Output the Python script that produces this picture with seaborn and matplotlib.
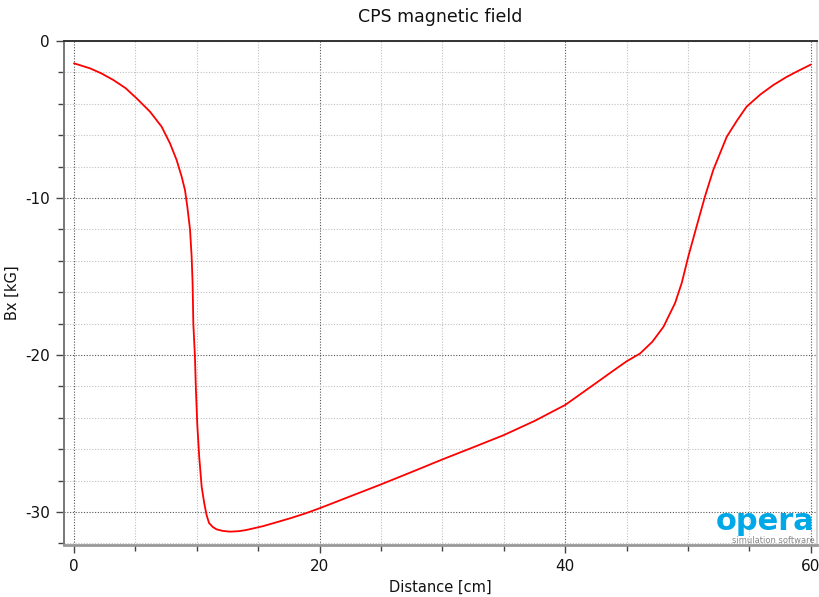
import numpy as np
import pandas as pd
import matplotlib
matplotlib.use("Agg")
import matplotlib.pyplot as plt
from matplotlib.ticker import MultipleLocator
import seaborn as sns

distance_cm = [0.0, 1.3, 2.2, 3.2, 4.2, 5.1, 6.19, 7.14, 7.82, 8.36, 8.77, 9.04, 9.23,
               9.45, 9.58, 9.66, 9.72, 9.85, 9.93, 10.04, 10.2, 10.4, 10.6, 10.8, 11.0,
               11.3, 11.6, 12.1, 12.7, 13.4, 14.0, 15.4, 16.5, 17.6, 18.8, 20.0, 22.5,
               25.0, 27.5, 30.0, 32.5, 35.0, 37.5, 40.0, 42.3, 44.0, 45.0, 46.1, 47.1,
               48.0, 48.94, 49.49, 50.03, 50.7, 51.38, 52.06, 53.15, 54.0, 54.77, 55.9,
               56.95, 58.0, 58.85, 60.0]
bx_kG = [-1.42, -1.74, -2.05, -2.48, -3.0, -3.65, -4.5, -5.46, -6.52, -7.58, -8.64,
         -9.49, -10.55, -12.0, -13.7, -15.4, -18.0, -20.1, -22.2, -24.4, -26.5, -28.4,
         -29.4, -30.2, -30.7, -30.95, -31.1, -31.2, -31.25, -31.22, -31.15, -30.9,
         -30.65, -30.4, -30.1, -29.76, -29.0, -28.24, -27.45, -26.65, -25.88, -25.1,
         -24.2, -23.18, -21.9, -20.95, -20.4, -19.9, -19.15, -18.2, -16.7, -15.4,
         -13.7, -11.8, -9.9, -8.2, -6.1, -5.05, -4.18, -3.4, -2.8, -2.3, -1.95, -1.5]

title = "CPS magnetic field"
xlabel = "Distance [cm]"
ylabel = "Bx [kG]"

df = pd.DataFrame({"Distance": distance_cm, "Bx": bx_kG})

sns.set_style("white")
plt.rcParams['font.family'] = ['DejaVu Sans']
plt.rcParams['axes.unicode_minus'] = False

fig = plt.figure(figsize=(8.19, 5.97), dpi=100)
ax = fig.add_axes([64/819, 1-545/597, (817-64)/819, (545-41)/597])

sns.lineplot(data=df, x="Distance", y="Bx", ax=ax, color="#ff0000", linewidth=1.3,
             sort=False, estimator=None)

ax.set_xlim(-0.81, 60.5)
ax.set_ylim(-32.1, 0)

ax.xaxis.set_major_locator(MultipleLocator(20))
ax.xaxis.set_minor_locator(MultipleLocator(5))
ax.yaxis.set_major_locator(MultipleLocator(10))
ax.yaxis.set_minor_locator(MultipleLocator(2))

ax.grid(which="major", color="#555555", linestyle=(0, (1, 1.5)), linewidth=0.8)
ax.grid(which="minor", color="#c0c0c0", linestyle=(0, (1, 1.5)), linewidth=0.8)
ax.set_axisbelow(True)

ax.tick_params(which="major", direction="out", length=6, width=1, color="#444444",
               labelsize=11, labelcolor="#111111", pad=4, bottom=True, left=True)
ax.tick_params(which="minor", direction="out", length=4, width=1, color="#444444",
               bottom=True, left=True)

for side, col, lw in [("top", "#333333", 1.4), ("left", "#777777", 1.4),
                      ("bottom", "#999999", 2.0), ("right", "#cccccc", 1.2)]:
    ax.spines[side].set_visible(True)
    ax.spines[side].set_color(col)
    ax.spines[side].set_linewidth(lw)

ax.set_xlabel(xlabel, fontsize=10.5, color="#111111", labelpad=4)
ax.set_ylabel(ylabel, fontsize=10.5, color="#111111")
ax.yaxis.set_label_coords(-(64 - 20) / 753, 0.5)
fig.text(0.5 * (64 + 817) / 819, 1 - 17/597, title, ha="center", va="center",
         fontsize=12.5, color="#111111")

ax.text(0.997, (545 - 530) / 504, "opera", transform=ax.transAxes, ha="right",
        va="baseline", fontsize=22, fontweight="bold", color="#00a8e8")
ax.text(0.997, (545 - 543) / 504, "simulation software", transform=ax.transAxes,
        ha="right", va="baseline", fontsize=6, color="#888888")

fig.savefig("out.png", dpi=100, facecolor="white")
